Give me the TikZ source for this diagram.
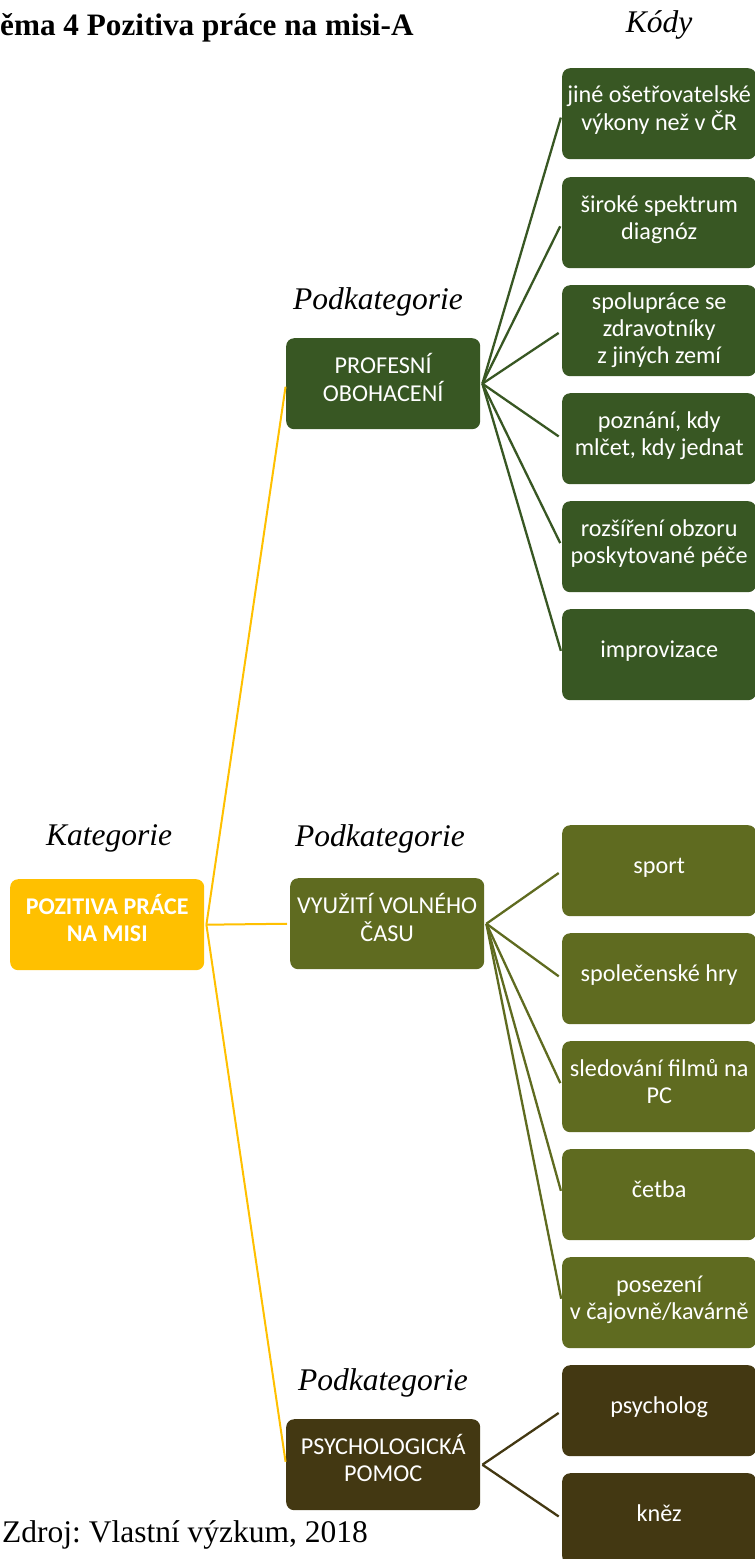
\documentclass[tikz,border=0pt]{standalone}
\usepackage{fontspec}
\setmainfont{Liberation Serif}
\newfontfamily\boxfont{Carlito}
\frenchspacing

\definecolor{rootgold}{HTML}{FFC000}
\definecolor{profgreen}{HTML}{385723}
\definecolor{freeolive}{HTML}{5F6B20}
\definecolor{psybrown}{HTML}{433812}

% centred lines of box text, sitting a little above the box centre
\newcommand\cardtext[2][5pt]{\raisebox{0pt}[\height][\dimexpr\depth+#1\relax]{\begin{tabular}{@{}c@{}}#2\end{tabular}}}

\tikzset{
  card/.style={rounded corners=8pt, minimum width=194pt, minimum height=91pt,
    inner sep=0pt, text=white, anchor=north west,
    font=\boxfont\fontsize{24.2}{27}\selectfont},
  rootcard/.style={card, fill=rootgold, font=\boxfont\bfseries\fontsize{24}{27}\selectfont},
  heading/.style={inner sep=0pt, anchor=base, font=\itshape\fontsize{31.5}{36}\selectfont},
  goldlink/.style={draw=rootgold, line width=2pt, shorten >=3pt},
  twig/.style={line width=2.3pt, shorten >=4pt},
}

\begin{document}
\begin{tikzpicture}[x=1pt, y=-1pt]
\useasboundingbox (0,0) rectangle (755,1559);

% headings and captions
\node[inner sep=0pt, anchor=base west, font=\bfseries\fontsize{31.2}{36}\selectfont] (title) at (0,35) {ěma 4 Pozitiva práce na misi-A};
\node[heading] (hcodes) at (659,32) {Kódy};
\node[heading] (hcat) at (109,845) {Kategorie};
\node[heading] (hsub1) at (378,309) {Podkategorie};
\node[heading] (hsub2) at (380,846) {Podkategorie};
\node[heading] (hsub3) at (383,1390) {Podkategorie};
\node[inner sep=0pt, anchor=base west, font=\fontsize{31.5}{36}\selectfont] (source) at (2,1542) {Zdroj: Vlastní výzkum, 2018};

% category
\node[rootcard] (root) at (10,879) {\cardtext{POZITIVA PRÁCE\\NA MISI}};

% subcategories
\node[card, fill=profgreen] (prof) at (286,338) {\cardtext{PROFESNÍ\\OBOHACENÍ}};
\node[card, fill=freeolive] (free) at (290,878) {\cardtext{VYUŽITÍ VOLNÉHO\\ČASU}};
\node[card, fill=psybrown] (psy) at (286,1419) {\cardtext{PSYCHOLOGICKÁ\\POMOC}};

% codes: professional enrichment
\node[card, fill=profgreen] (p1) at (562,68) {\cardtext{jiné ošetřovatelské\\výkony než v ČR}};
\node[card, fill=profgreen] (p2) at (562,177) {\cardtext{široké spektrum\\diagnóz}};
\node[card, fill=profgreen] (p3) at (562,285) {\cardtext[0pt]{spolupráce se\\zdravotníky\\z jiných zemí}};
\node[card, fill=profgreen] (p4) at (562,393) {\cardtext{poznání, kdy\\mlčet, kdy jednat}};
\node[card, fill=profgreen] (p5) at (562,501) {\cardtext{rozšíření obzoru\\poskytované péče}};
\node[card, fill=profgreen] (p6) at (562,609) {\cardtext{improvizace}};

% codes: free time
\node[card, fill=freeolive] (f1) at (562,825) {\cardtext{sport}};
\node[card, fill=freeolive] (f2) at (562,933) {\cardtext{společenské hry}};
\node[card, fill=freeolive] (f3) at (562,1041) {\cardtext{sledování filmů na\\PC}};
\node[card, fill=freeolive] (f4) at (562,1149) {\cardtext{četba}};
\node[card, fill=freeolive] (f5) at (562,1257) {\cardtext{posezení\\v čajovně/kavárně}};

% codes: psychological help
\node[card, fill=psybrown] (s1) at (562,1365) {\cardtext{psycholog}};
\node[card, fill=psybrown] (s2) at (562,1473) {\cardtext{kněz}};

% category -> subcategories
\coordinate (rootout) at ([xshift=2pt]root.east);
\draw[goldlink] (rootout) -- (prof.west);
\draw[goldlink] (rootout) -- (free.west);
\draw[goldlink] (rootout) -- (psy.west);

% subcategories -> codes
\coordinate (profout) at ([xshift=2pt]prof.east);
\foreach \c in {p1,p2,p3,p4,p5,p6}
  \draw[twig, draw=profgreen] (profout) -- (\c.west);
\coordinate (freeout) at ([xshift=2pt]free.east);
\foreach \c in {f1,f2,f3,f4,f5}
  \draw[twig, draw=freeolive] (freeout) -- (\c.west);
\coordinate (psyout) at ([xshift=2pt]psy.east);
\foreach \c in {s1,s2}
  \draw[twig, draw=psybrown] (psyout) -- (\c.west);
\end{tikzpicture}
\end{document}
